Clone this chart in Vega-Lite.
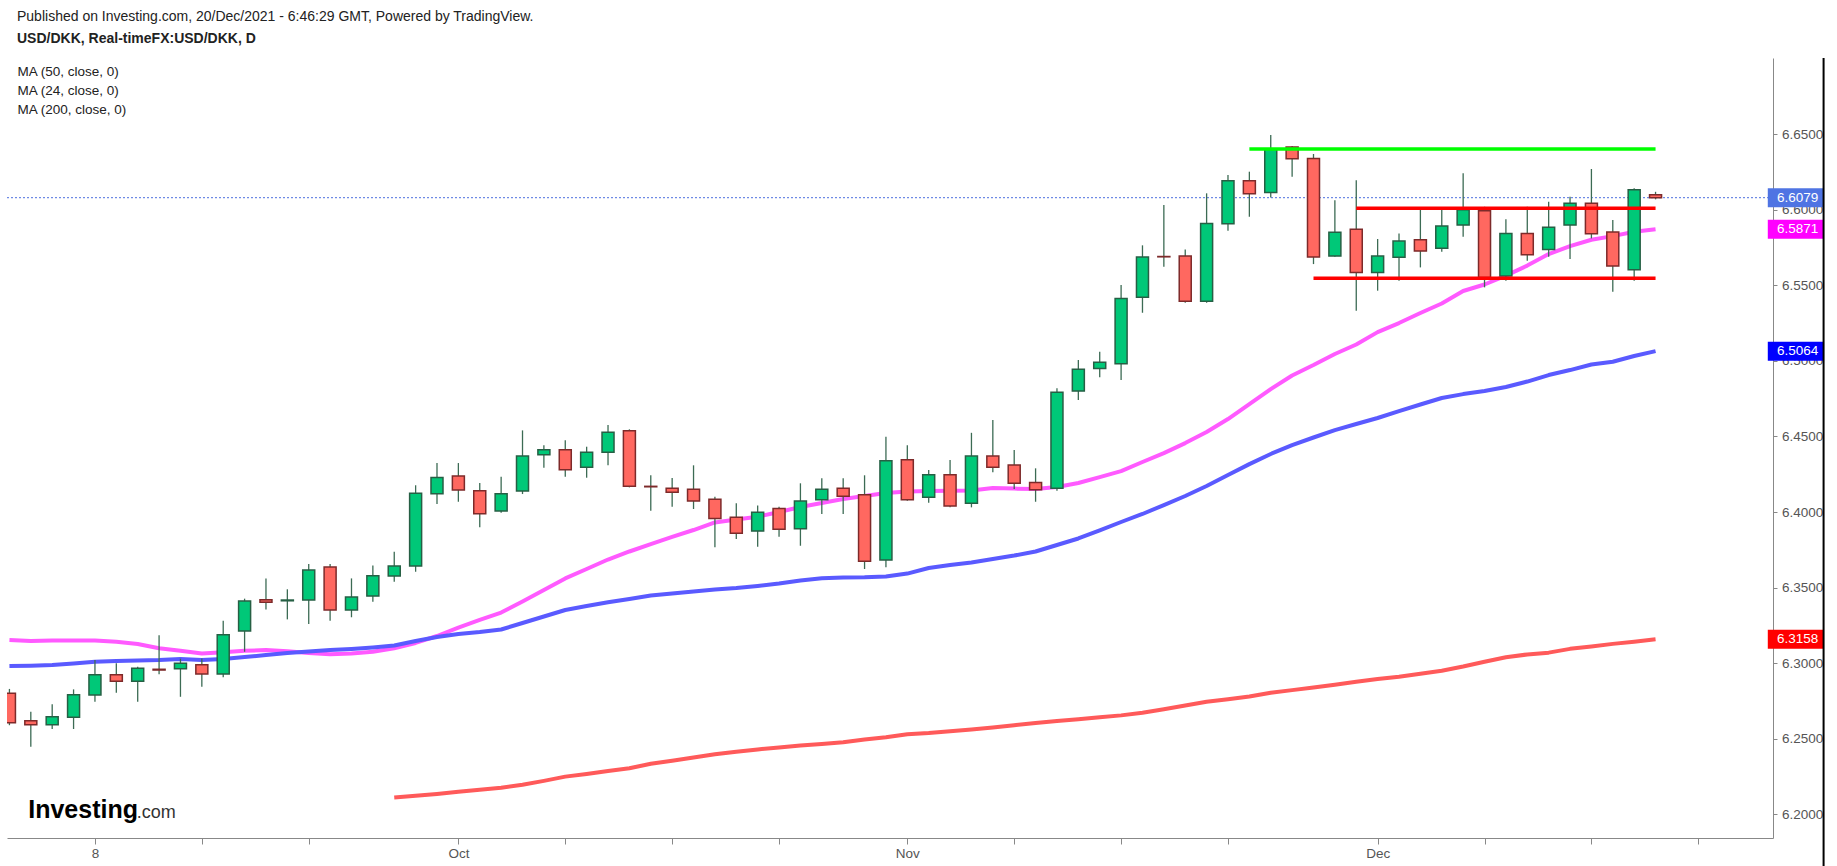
{
  "$schema": "https://vega.github.io/schema/vega-lite/v6.json",
  "width": 1766,
  "height": 780,
  "autosize": {"type": "none"},
  "padding": {"left": 7, "top": 58, "right": 64, "bottom": 28},
  "background": "white",
  "title": {
    "text": "Published on Investing.com, 20/Dec/2021 - 6:46:29 GMT, Powered by TradingView.",
    "subtitle": "USD/DKK, Real-timeFX:USD/DKK, D",
    "anchor": "start",
    "frame": "group",
    "dx": 10,
    "offset": 11,
    "font": "Liberation Sans, Arial, sans-serif",
    "fontSize": 14,
    "fontWeight": "normal",
    "color": "#222222",
    "subtitleFont": "Liberation Sans, Arial, sans-serif",
    "subtitleFontSize": 14,
    "subtitleFontWeight": "bold",
    "subtitleColor": "#222222",
    "subtitlePadding": 8.5
  },
  "datasets": {
    "candles": [
      {"day": 1, "date": "2021-09-02", "open": 6.2801, "high": 6.2830, "low": 6.2590, "close": 6.2607, "ma24": 6.3153, "ma50": 6.2981, "ma200": null},
      {"day": 2, "date": "2021-09-03", "open": 6.2620, "high": 6.2679, "low": 6.2448, "close": 6.2593, "ma24": 6.3147, "ma50": 6.2983, "ma200": null},
      {"day": 3, "date": "2021-09-06", "open": 6.2593, "high": 6.2728, "low": 6.2565, "close": 6.2646, "ma24": 6.3150, "ma50": 6.2988, "ma200": null},
      {"day": 4, "date": "2021-09-07", "open": 6.2642, "high": 6.2827, "low": 6.2565, "close": 6.2792, "ma24": 6.3151, "ma50": 6.2998, "ma200": null},
      {"day": 5, "date": "2021-09-08", "open": 6.2790, "high": 6.3021, "low": 6.2745, "close": 6.2924, "ma24": 6.3151, "ma50": 6.3010, "ma200": null},
      {"day": 6, "date": "2021-09-09", "open": 6.2924, "high": 6.2999, "low": 6.2805, "close": 6.2880, "ma24": 6.3142, "ma50": 6.3015, "ma200": null},
      {"day": 7, "date": "2021-09-10", "open": 6.2880, "high": 6.2976, "low": 6.2745, "close": 6.2966, "ma24": 6.3127, "ma50": 6.3018, "ma200": null},
      {"day": 8, "date": "2021-09-13", "open": 6.2960, "high": 6.3185, "low": 6.2927, "close": 6.2955, "ma24": 6.3099, "ma50": 6.3021, "ma200": null},
      {"day": 9, "date": "2021-09-14", "open": 6.2964, "high": 6.3030, "low": 6.2778, "close": 6.3000, "ma24": 6.3083, "ma50": 6.3028, "ma200": null},
      {"day": 10, "date": "2021-09-15", "open": 6.2990, "high": 6.3032, "low": 6.2845, "close": 6.2929, "ma24": 6.3065, "ma50": 6.3022, "ma200": null},
      {"day": 11, "date": "2021-09-16", "open": 6.2929, "high": 6.3281, "low": 6.2907, "close": 6.3188, "ma24": 6.3073, "ma50": 6.3028, "ma200": null},
      {"day": 12, "date": "2021-09-17", "open": 6.3213, "high": 6.3427, "low": 6.3076, "close": 6.3411, "ma24": 6.3082, "ma50": 6.3041, "ma200": null},
      {"day": 13, "date": "2021-09-20", "open": 6.3420, "high": 6.3561, "low": 6.3356, "close": 6.3403, "ma24": 6.3087, "ma50": 6.3054, "ma200": null},
      {"day": 14, "date": "2021-09-21", "open": 6.3413, "high": 6.3489, "low": 6.3290, "close": 6.3418, "ma24": 6.3079, "ma50": 6.3067, "ma200": null},
      {"day": 15, "date": "2021-09-22", "open": 6.3418, "high": 6.3656, "low": 6.3259, "close": 6.3616, "ma24": 6.3067, "ma50": 6.3077, "ma200": null},
      {"day": 16, "date": "2021-09-23", "open": 6.3636, "high": 6.3656, "low": 6.3281, "close": 6.3352, "ma24": 6.3060, "ma50": 6.3087, "ma200": null},
      {"day": 17, "date": "2021-09-24", "open": 6.3352, "high": 6.3561, "low": 6.3304, "close": 6.3438, "ma24": 6.3065, "ma50": 6.3094, "ma200": null},
      {"day": 18, "date": "2021-09-27", "open": 6.3444, "high": 6.3647, "low": 6.3407, "close": 6.3579, "ma24": 6.3076, "ma50": 6.3104, "ma200": null},
      {"day": 19, "date": "2021-09-28", "open": 6.3577, "high": 6.3737, "low": 6.3539, "close": 6.3643, "ma24": 6.3099, "ma50": 6.3117, "ma200": 6.2112},
      {"day": 20, "date": "2021-09-29", "open": 6.3643, "high": 6.4177, "low": 6.3605, "close": 6.4124, "ma24": 6.3134, "ma50": 6.3147, "ma200": 6.2123},
      {"day": 21, "date": "2021-09-30", "open": 6.4121, "high": 6.4324, "low": 6.4053, "close": 6.4229, "ma24": 6.3180, "ma50": 6.3173, "ma200": 6.2135},
      {"day": 22, "date": "2021-10-01", "open": 6.4238, "high": 6.4324, "low": 6.4068, "close": 6.4146, "ma24": 6.3236, "ma50": 6.3193, "ma200": 6.2150},
      {"day": 23, "date": "2021-10-04", "open": 6.4141, "high": 6.4192, "low": 6.3899, "close": 6.3989, "ma24": 6.3286, "ma50": 6.3206, "ma200": 6.2163},
      {"day": 24, "date": "2021-10-05", "open": 6.4007, "high": 6.4233, "low": 6.3995, "close": 6.4121, "ma24": 6.3335, "ma50": 6.3223, "ma200": 6.2176},
      {"day": 25, "date": "2021-10-06", "open": 6.4139, "high": 6.4540, "low": 6.4119, "close": 6.4370, "ma24": 6.3408, "ma50": 6.3266, "ma200": 6.2196},
      {"day": 26, "date": "2021-10-07", "open": 6.4379, "high": 6.4441, "low": 6.4293, "close": 6.4412, "ma24": 6.3484, "ma50": 6.3309, "ma200": 6.2222},
      {"day": 27, "date": "2021-10-08", "open": 6.4412, "high": 6.4474, "low": 6.4233, "close": 6.4280, "ma24": 6.3561, "ma50": 6.3352, "ma200": 6.2250},
      {"day": 28, "date": "2021-10-11", "open": 6.4296, "high": 6.4432, "low": 6.4227, "close": 6.4395, "ma24": 6.3623, "ma50": 6.3378, "ma200": 6.2268},
      {"day": 29, "date": "2021-10-12", "open": 6.4395, "high": 6.4575, "low": 6.4309, "close": 6.4527, "ma24": 6.3686, "ma50": 6.3403, "ma200": 6.2287},
      {"day": 30, "date": "2021-10-13", "open": 6.4538, "high": 6.4547, "low": 6.4163, "close": 6.4170, "ma24": 6.3739, "ma50": 6.3425, "ma200": 6.2305},
      {"day": 31, "date": "2021-10-14", "open": 6.4170, "high": 6.4243, "low": 6.4009, "close": 6.4167, "ma24": 6.3788, "ma50": 6.3448, "ma200": 6.2335},
      {"day": 32, "date": "2021-10-15", "open": 6.4157, "high": 6.4225, "low": 6.4035, "close": 6.4130, "ma24": 6.3835, "ma50": 6.3461, "ma200": 6.2355},
      {"day": 33, "date": "2021-10-18", "open": 6.4150, "high": 6.4309, "low": 6.4020, "close": 6.4073, "ma24": 6.3881, "ma50": 6.3474, "ma200": 6.2377},
      {"day": 34, "date": "2021-10-19", "open": 6.4084, "high": 6.4101, "low": 6.3767, "close": 6.3958, "ma24": 6.3931, "ma50": 6.3487, "ma200": 6.2398},
      {"day": 35, "date": "2021-10-20", "open": 6.3965, "high": 6.4058, "low": 6.3821, "close": 6.3859, "ma24": 6.3950, "ma50": 6.3497, "ma200": 6.2415},
      {"day": 36, "date": "2021-10-21", "open": 6.3874, "high": 6.4044, "low": 6.3771, "close": 6.3998, "ma24": 6.3969, "ma50": 6.3511, "ma200": 6.2430},
      {"day": 37, "date": "2021-10-22", "open": 6.4024, "high": 6.4035, "low": 6.3837, "close": 6.3886, "ma24": 6.4000, "ma50": 6.3527, "ma200": 6.2442},
      {"day": 38, "date": "2021-10-25", "open": 6.3890, "high": 6.4190, "low": 6.3777, "close": 6.4073, "ma24": 6.4033, "ma50": 6.3547, "ma200": 6.2456},
      {"day": 39, "date": "2021-10-26", "open": 6.4081, "high": 6.4223, "low": 6.3987, "close": 6.4150, "ma24": 6.4060, "ma50": 6.3562, "ma200": 6.2466},
      {"day": 40, "date": "2021-10-27", "open": 6.4157, "high": 6.4223, "low": 6.3987, "close": 6.4104, "ma24": 6.4086, "ma50": 6.3567, "ma200": 6.2478},
      {"day": 41, "date": "2021-10-28", "open": 6.4114, "high": 6.4243, "low": 6.3623, "close": 6.3674, "ma24": 6.4106, "ma50": 6.3568, "ma200": 6.2495},
      {"day": 42, "date": "2021-10-29", "open": 6.3683, "high": 6.4498, "low": 6.3634, "close": 6.4339, "ma24": 6.4126, "ma50": 6.3573, "ma200": 6.2510},
      {"day": 43, "date": "2021-11-01", "open": 6.4346, "high": 6.4441, "low": 6.4075, "close": 6.4081, "ma24": 6.4136, "ma50": 6.3593, "ma200": 6.2530},
      {"day": 44, "date": "2021-11-02", "open": 6.4097, "high": 6.4278, "low": 6.4062, "close": 6.4247, "ma24": 6.4139, "ma50": 6.3630, "ma200": 6.2538},
      {"day": 45, "date": "2021-11-03", "open": 6.4247, "high": 6.4344, "low": 6.4031, "close": 6.4040, "ma24": 6.4140, "ma50": 6.3649, "ma200": 6.2550},
      {"day": 46, "date": "2021-11-04", "open": 6.4058, "high": 6.4524, "low": 6.4031, "close": 6.4370, "ma24": 6.4142, "ma50": 6.3666, "ma200": 6.2562},
      {"day": 47, "date": "2021-11-05", "open": 6.4370, "high": 6.4608, "low": 6.4263, "close": 6.4296, "ma24": 6.4159, "ma50": 6.3689, "ma200": 6.2575},
      {"day": 48, "date": "2021-11-08", "open": 6.4311, "high": 6.4410, "low": 6.4152, "close": 6.4190, "ma24": 6.4155, "ma50": 6.3712, "ma200": 6.2590},
      {"day": 49, "date": "2021-11-09", "open": 6.4196, "high": 6.4289, "low": 6.4068, "close": 6.4147, "ma24": 6.4152, "ma50": 6.3739, "ma200": 6.2605},
      {"day": 50, "date": "2021-11-10", "open": 6.4157, "high": 6.4818, "low": 6.4141, "close": 6.4792, "ma24": 6.4165, "ma50": 6.3782, "ma200": 6.2618},
      {"day": 51, "date": "2021-11-11", "open": 6.4800, "high": 6.5005, "low": 6.4741, "close": 6.4944, "ma24": 6.4192, "ma50": 6.3825, "ma200": 6.2630},
      {"day": 52, "date": "2021-11-12", "open": 6.4950, "high": 6.5060, "low": 6.4891, "close": 6.4990, "ma24": 6.4231, "ma50": 6.3878, "ma200": 6.2642},
      {"day": 53, "date": "2021-11-15", "open": 6.4981, "high": 6.5501, "low": 6.4873, "close": 6.5413, "ma24": 6.4271, "ma50": 6.3934, "ma200": 6.2655},
      {"day": 54, "date": "2021-11-16", "open": 6.5420, "high": 6.5764, "low": 6.5318, "close": 6.5687, "ma24": 6.4331, "ma50": 6.3987, "ma200": 6.2673},
      {"day": 55, "date": "2021-11-17", "open": 6.5690, "high": 6.6030, "low": 6.5622, "close": 6.5688, "ma24": 6.4390, "ma50": 6.4046, "ma200": 6.2695},
      {"day": 56, "date": "2021-11-18", "open": 6.5693, "high": 6.5737, "low": 6.5384, "close": 6.5394, "ma24": 6.4456, "ma50": 6.4106, "ma200": 6.2720},
      {"day": 57, "date": "2021-11-19", "open": 6.5394, "high": 6.6108, "low": 6.5384, "close": 6.5909, "ma24": 6.4529, "ma50": 6.4172, "ma200": 6.2745},
      {"day": 58, "date": "2021-11-22", "open": 6.5907, "high": 6.6229, "low": 6.5860, "close": 6.6191, "ma24": 6.4615, "ma50": 6.4245, "ma200": 6.2762},
      {"day": 59, "date": "2021-11-23", "open": 6.6191, "high": 6.6251, "low": 6.5953, "close": 6.6105, "ma24": 6.4714, "ma50": 6.4317, "ma200": 6.2780},
      {"day": 60, "date": "2021-11-24", "open": 6.6114, "high": 6.6493, "low": 6.6081, "close": 6.6399, "ma24": 6.4813, "ma50": 6.4384, "ma200": 6.2805},
      {"day": 61, "date": "2021-11-25", "open": 6.6414, "high": 6.6421, "low": 6.6218, "close": 6.6337, "ma24": 6.4903, "ma50": 6.4443, "ma200": 6.2822},
      {"day": 62, "date": "2021-11-26", "open": 6.6339, "high": 6.6368, "low": 6.5640, "close": 6.5687, "ma24": 6.4972, "ma50": 6.4493, "ma200": 6.2840},
      {"day": 63, "date": "2021-11-29", "open": 6.5693, "high": 6.6062, "low": 6.5688, "close": 6.5850, "ma24": 6.5045, "ma50": 6.4542, "ma200": 6.2858},
      {"day": 64, "date": "2021-11-30", "open": 6.5870, "high": 6.6194, "low": 6.5331, "close": 6.5585, "ma24": 6.5108, "ma50": 6.4582, "ma200": 6.2878},
      {"day": 65, "date": "2021-12-01", "open": 6.5585, "high": 6.5806, "low": 6.5464, "close": 6.5693, "ma24": 6.5190, "ma50": 6.4622, "ma200": 6.2895},
      {"day": 66, "date": "2021-12-02", "open": 6.5685, "high": 6.5843, "low": 6.5530, "close": 6.5792, "ma24": 6.5250, "ma50": 6.4668, "ma200": 6.2910},
      {"day": 67, "date": "2021-12-03", "open": 6.5801, "high": 6.6009, "low": 6.5618, "close": 6.5726, "ma24": 6.5316, "ma50": 6.4711, "ma200": 6.2930},
      {"day": 68, "date": "2021-12-06", "open": 6.5744, "high": 6.6009, "low": 6.5722, "close": 6.5892, "ma24": 6.5379, "ma50": 6.4754, "ma200": 6.2950},
      {"day": 69, "date": "2021-12-07", "open": 6.5898, "high": 6.6240, "low": 6.5821, "close": 6.5999, "ma24": 6.5462, "ma50": 6.4780, "ma200": 6.2978},
      {"day": 70, "date": "2021-12-08", "open": 6.5993, "high": 6.6019, "low": 6.5486, "close": 6.5552, "ma24": 6.5505, "ma50": 6.4800, "ma200": 6.3010},
      {"day": 71, "date": "2021-12-09", "open": 6.5561, "high": 6.5936, "low": 6.5530, "close": 6.5843, "ma24": 6.5564, "ma50": 6.4827, "ma200": 6.3040},
      {"day": 72, "date": "2021-12-10", "open": 6.5843, "high": 6.6019, "low": 6.5662, "close": 6.5702, "ma24": 6.5630, "ma50": 6.4863, "ma200": 6.3058},
      {"day": 73, "date": "2021-12-13", "open": 6.5737, "high": 6.6052, "low": 6.5688, "close": 6.5883, "ma24": 6.5706, "ma50": 6.4906, "ma200": 6.3070},
      {"day": 74, "date": "2021-12-14", "open": 6.5898, "high": 6.6085, "low": 6.5673, "close": 6.6042, "ma24": 6.5759, "ma50": 6.4939, "ma200": 6.3095},
      {"day": 75, "date": "2021-12-15", "open": 6.6042, "high": 6.6269, "low": 6.5810, "close": 6.5841, "ma24": 6.5801, "ma50": 6.4976, "ma200": 6.3110},
      {"day": 76, "date": "2021-12-16", "open": 6.5852, "high": 6.5931, "low": 6.5457, "close": 6.5627, "ma24": 6.5825, "ma50": 6.4994, "ma200": 6.3128},
      {"day": 77, "date": "2021-12-17", "open": 6.5603, "high": 6.6141, "low": 6.5530, "close": 6.6132, "ma24": 6.5854, "ma50": 6.5032, "ma200": 6.3142},
      {"day": 78, "date": "2021-12-20", "open": 6.6098, "high": 6.6118, "low": 6.6068, "close": 6.6079, "ma24": 6.5871, "ma50": 6.5064, "ma200": 6.3158}
    ],
    "levels": [
      {"level": "resistance", "start": 59, "end": 78, "price": 6.6401},
      {"level": "range top", "start": 64, "end": 78, "price": 6.6010},
      {"level": "range bottom", "start": 62, "end": 78, "price": 6.5547}
    ]
  },
  "data": {"name": "candles"},
  "layer": [
    {
      "transform": [{"filter": "datum.day == 78"}],
      "mark": {"type": "rule", "strokeDash": [2, 2], "color": "#4d6fdf", "strokeWidth": 1},
      "encoding": {
        "y": {"field": "close", "type": "quantitative", "scale": {"domain": [6.1844, 6.7003], "nice": false, "zero": false},
          "axis": {"orient": "right", "values": [6.2, 6.25, 6.3, 6.35, 6.4, 6.45, 6.5, 6.55, 6.6, 6.65], "format": ".4f", "tickSize": 4, "labelPadding": 4.5, "title": null}}
      }
    },
    {
      "mark": {"type": "line", "clip": true, "strokeWidth": 4, "strokeJoin": "round"},
      "encoding": {
        "x": {"field": "day", "type": "quantitative", "scale": {"domain": [1.12, 83.26], "nice": false, "zero": false},
          "axis": {"orient": "bottom", "values": [5, 10, 15, 22, 27, 32, 37, 43, 48, 53, 58, 65, 70, 75, 80], "labelExpr": "datum.value == 5 ? '8' : datum.value == 22 ? 'Oct' : datum.value == 43 ? 'Nov' : datum.value == 65 ? 'Dec' : ''", "tickSize": 6, "labelPadding": 2, "labelOverlap": false, "title": null}},
        "y": {"field": "ma24", "type": "quantitative", "scale": {"domain": [6.1844, 6.7003], "nice": false, "zero": false}},
        "color": {"datum": "MA (24, close, 0)", "type": "nominal",
          "scale": {"domain": ["MA (50, close, 0)", "MA (24, close, 0)", "MA (200, close, 0)"], "range": ["#5a5aff", "#ff5aff", "#ff5a5a"]},
          "legend": {"title": null}}
      }
    },
    {
      "mark": {"type": "line", "clip": true, "strokeWidth": 4, "strokeJoin": "round"},
      "encoding": {
        "x": {"field": "day", "type": "quantitative", "scale": {"domain": [1.12, 83.26], "nice": false, "zero": false}},
        "y": {"field": "ma50", "type": "quantitative", "scale": {"domain": [6.1844, 6.7003], "nice": false, "zero": false}},
        "color": {"datum": "MA (50, close, 0)", "type": "nominal"}
      }
    },
    {
      "mark": {"type": "line", "clip": true, "strokeWidth": 4, "strokeJoin": "round"},
      "encoding": {
        "x": {"field": "day", "type": "quantitative", "scale": {"domain": [1.12, 83.26], "nice": false, "zero": false}},
        "y": {"field": "ma200", "type": "quantitative", "scale": {"domain": [6.1844, 6.7003], "nice": false, "zero": false}},
        "color": {"datum": "MA (200, close, 0)", "type": "nominal"}
      }
    },
    {
      "mark": {"type": "rule", "clip": true, "color": "#3c6b54", "strokeWidth": 1.3},
      "encoding": {
        "x": {"field": "day", "type": "quantitative", "scale": {"domain": [1.12, 83.26], "nice": false, "zero": false}},
        "y": {"field": "low", "type": "quantitative", "scale": {"domain": [6.1844, 6.7003], "nice": false, "zero": false}},
        "y2": {"field": "high"}
      }
    },
    {
      "mark": {"type": "bar", "clip": true, "size": 12, "strokeWidth": 1.5},
      "encoding": {
        "x": {"field": "day", "type": "quantitative", "scale": {"domain": [1.12, 83.26], "nice": false, "zero": false}},
        "y": {"field": "open", "type": "quantitative", "scale": {"domain": [6.1844, 6.7003], "nice": false, "zero": false}},
        "y2": {"field": "close"},
        "fill": {"condition": {"test": "datum.close >= datum.open", "value": "#00c878"}, "value": "#ff6860"},
        "stroke": {"condition": {"test": "datum.close >= datum.open", "value": "#265f44"}, "value": "#7d2a2a"}
      }
    },
    {
      "data": {"name": "levels"},
      "mark": {"type": "rule", "strokeWidth": 3.5},
      "encoding": {
        "x": {"field": "start", "type": "quantitative", "scale": {"domain": [1.12, 83.26], "nice": false, "zero": false}},
        "x2": {"field": "end"},
        "y": {"field": "price", "type": "quantitative", "scale": {"domain": [6.1844, 6.7003], "nice": false, "zero": false}},
        "stroke": {"field": "level", "type": "nominal", "scale": {"domain": ["resistance", "range top", "range bottom"], "range": ["#00ff00", "#ff0000", "#ff0000"]}, "legend": null}
      }
    },
    {
      "transform": [
        {"filter": "datum.day == 78"},
        {"fold": ["close", "ma24", "ma50", "ma200"], "as": ["key", "value"]}
      ],
      "layer": [
        {
          "mark": {"type": "tick", "orient": "horizontal", "size": 56, "thickness": 19, "filled": true, "opacity": 1},
          "encoding": {
            "x": {"datum": 84.56, "type": "quantitative", "scale": {"domain": [1.12, 83.26], "nice": false, "zero": false}},
            "y": {"field": "value", "type": "quantitative", "scale": {"domain": [6.1844, 6.7003], "nice": false, "zero": false}},
            "fill": {"field": "key", "type": "nominal", "scale": {"domain": ["close", "ma24", "ma50", "ma200"], "range": ["#4f74e3", "#ff00ff", "#0000ff", "#ff0000"]}, "legend": null}
          }
        },
        {
          "mark": {"type": "text", "align": "left", "baseline": "middle", "dx": 9, "fill": "white", "fontSize": 13.5, "font": "Liberation Sans, Arial, sans-serif"},
          "encoding": {
            "x": {"datum": 83.26, "type": "quantitative", "scale": {"domain": [1.12, 83.26], "nice": false, "zero": false}},
            "y": {"field": "value", "type": "quantitative", "scale": {"domain": [6.1844, 6.7003], "nice": false, "zero": false}},
            "text": {"field": "value", "type": "quantitative", "format": ".4f"}
          }
        }
      ]
    },
    {
      "data": {"values": [{"frame": "right"}]},
      "mark": {"type": "rule", "color": "#000000", "strokeWidth": 2},
      "encoding": {
        "x": {"datum": 85.86, "type": "quantitative", "scale": {"domain": [1.12, 83.26], "nice": false, "zero": false}},
        "y": {"datum": 6.7003, "type": "quantitative", "scale": {"domain": [6.1844, 6.7003], "nice": false, "zero": false}},
        "y2": {"datum": 6.1659}
      }
    },
    {
      "data": {"values": [{"brand": "Investing"}]},
      "mark": {"type": "text", "align": "left", "baseline": "alphabetic", "fontSize": 25, "fontWeight": "bold", "font": "Liberation Sans, Arial, sans-serif", "fill": "#000000"},
      "encoding": {
        "x": {"datum": 1.88, "type": "quantitative", "scale": {"domain": [1.12, 83.26], "nice": false, "zero": false}},
        "y": {"datum": 6.1976, "type": "quantitative", "scale": {"domain": [6.1844, 6.7003], "nice": false, "zero": false}},
        "text": {"field": "brand"}
      }
    },
    {
      "data": {"values": [{"brand": ".com"}]},
      "mark": {"type": "text", "align": "left", "baseline": "alphabetic", "fontSize": 18, "font": "Liberation Sans, Arial, sans-serif", "fill": "#333333"},
      "encoding": {
        "x": {"datum": 6.95, "type": "quantitative", "scale": {"domain": [1.12, 83.26], "nice": false, "zero": false}},
        "y": {"datum": 6.1976, "type": "quantitative", "scale": {"domain": [6.1844, 6.7003], "nice": false, "zero": false}},
        "text": {"field": "brand"}
      }
    }
  ],
  "config": {
    "view": {"stroke": null},
    "font": "Liberation Sans, Arial, sans-serif",
    "axis": {
      "grid": false,
      "domainColor": "#888888",
      "tickColor": "#888888",
      "labelColor": "#555555",
      "labelFontSize": 13.5,
      "labelFont": "Liberation Sans, Arial, sans-serif"
    },
    "legend": {
      "orient": "top-left",
      "offset": 7,
      "padding": 0,
      "labelFontSize": 13.5,
      "labelColor": "#222222",
      "labelFont": "Liberation Sans, Arial, sans-serif",
      "symbolSize": 0,
      "symbolOpacity": 0,
      "symbolStrokeWidth": 0,
      "labelOffset": -10,
      "rowPadding": 4,
      "labelLimit": 400
    }
  }
}
